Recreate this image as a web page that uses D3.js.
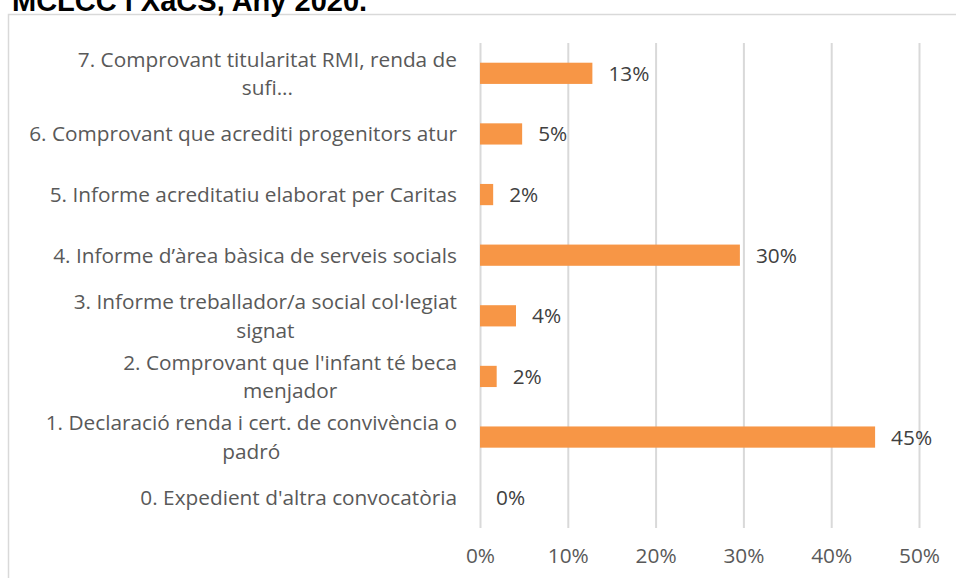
<!DOCTYPE html>
<html>
<head>
<meta charset="utf-8">
<script src="https://cdn.jsdelivr.net/npm/d3@7"></script>
<style>
  html, body { margin: 0; padding: 0; background: #fff; }
  svg { display: block; }
  text { font-variant-ligatures: none; }
</style>
</head>
<body>
<svg id="chart" width="956" height="578"></svg>
<script>
// ---- data ----
const titleText = "MCLCC i XaCS, Any 2020.";
const categories = [
  "7. Comprovant titularitat RMI, renda de\nsufi...",
  "6. Comprovant que acrediti progenitors atur",
  "5. Informe acreditatiu elaborat per Caritas",
  "4. Informe d\u2019\u00e0rea b\u00e0sica de serveis socials",
  "3. Informe treballador/a social col\u00b7legiat\nsignat",
  "2. Comprovant que l'infant t\u00e9 beca\nmenjador",
  "1. Declaraci\u00f3 renda i cert. de conviv\u00e8ncia o\npadr\u00f3",
  "0. Expedient d'altra convocat\u00f2ria"
];
const values = [0.128, 0.048, 0.015, 0.296, 0.041, 0.019, 0.450, 0.0];
const tickValues = [0, 0.1, 0.2, 0.3, 0.4, 0.5];

// ---- layout ----
const svg = d3.select("#chart");
const plot = { left: 480, right: 919, top: 43, bottom: 528 };
const fontFamily = "'Open Sans', Lato, sans-serif";
const fontSize = 20.8;

const x = d3.scaleLinear().domain([0, 0.5]).range([plot.left, plot.right]);
const y = d3.scaleBand().domain(categories).range([plot.top, plot.bottom])
  .paddingInner(0.65).paddingOuter(0.325);

// outer chart frame
svg.append("rect")
  .attr("x", 8.5).attr("y", 14.5)
  .attr("width", 1200).attr("height", 1200)
  .attr("fill", "none").attr("stroke", "#d9d9d9").attr("stroke-width", 1.5);

// title (partially cut at top, as in the reference)
svg.append("text")
  .attr("x", 12).attr("y", 11)
  .attr("font-family", "'Liberation Sans', Arial, sans-serif")
  .attr("font-weight", "bold").attr("font-size", 29)
  .attr("fill", "#000")
  .text(titleText);

// gridlines + x axis labels
const xAxis = d3.axisBottom(x).tickValues(tickValues)
  .tickFormat(d3.format(".0%")).tickSize(-(plot.bottom - plot.top)).tickPadding(20);
const gx = svg.append("g")
  .attr("transform", `translate(0,${plot.bottom})`)
  .call(xAxis);
gx.select(".domain").remove();
gx.selectAll(".tick line").attr("stroke", "#d9d9d9").attr("stroke-width", 2);
gx.selectAll(".tick text")
  .attr("font-family", fontFamily).attr("font-size", fontSize)
  .attr("fill", "#595959");

// bars
svg.append("g").selectAll("rect")
  .data(categories)
  .join("rect")
  .attr("x", x(0))
  .attr("y", d => y(d))
  .attr("width", (d, i) => x(values[i]) - x(0))
  .attr("height", y.bandwidth())
  .attr("fill", "#F79646");

// value labels
svg.append("g").selectAll("text")
  .data(categories)
  .join("text")
  .attr("x", (d, i) => x(values[i]) + 16)
  .attr("y", d => y(d) + y.bandwidth() / 2)
  .attr("dy", "0.36em")
  .attr("font-family", fontFamily).attr("font-size", fontSize)
  .attr("fill", "#404040")
  .text((d, i) => d3.format(".0%")(values[i]));

// category labels (lines centered, block right-aligned)
const labelRight = 457;
const lineH = 28.5;
const catG = svg.append("g");
categories.forEach(cat => {
  const lines = cat.split("\n");
  const cy = y(cat) + y.bandwidth() / 2;
  const t = catG.append("text")
    .attr("font-family", fontFamily).attr("font-size", fontSize)
    .attr("fill", "#595959");
  const spans = lines.map((ln, k) =>
    t.append("tspan").attr("y", cy + (k - (lines.length - 1) / 2) * lineH)
      .attr("dy", "0.36em").text(ln));
  const widths = spans.map(s => s.node().getComputedTextLength());
  const maxW = d3.max(widths);
  const center = labelRight - maxW / 2;
  spans.forEach(s => s.attr("x", center).attr("text-anchor", "middle"));
});
</script>
</body>
</html>
